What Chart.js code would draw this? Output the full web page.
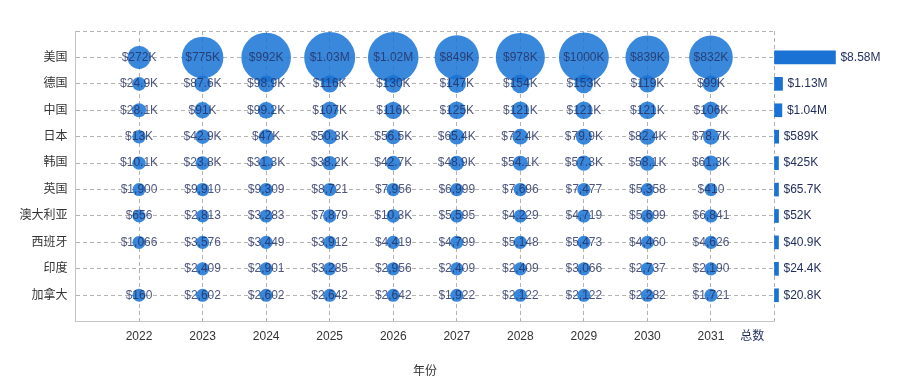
<!DOCTYPE html>
<html>
<head>
<meta charset="utf-8">
<script src="https://cdn.jsdelivr.net/npm/chart.js@4/dist/chart.umd.min.js"></script>
<style>
body { margin: 0; background: #fff; }
#wrap { width: 903px; height: 388px; }
</style>
</head>
<body>
<div id="wrap"><canvas id="chart"></canvas></div>
<script>
const years = [2022, 2023, 2024, 2025, 2026, 2027, 2028, 2029, 2030, 2031];
const countries = ["美国", "德国", "中国", "日本", "韩国", "英国", "澳大利亚", "西班牙", "印度", "加拿大"];

// yearly values per country (USD), null = no data
const usa = [272000, 775000, 992000, 1030000, 1020000, 849000, 978000, 999800, 839000, 832000];
const germany = [24900, 87600, 98900, 116000, 130000, 147000, 154000, 153000, 119000, 99000];
const china = [28100, 91000, 99200, 107000, 116000, 125000, 121000, 121000, 121000, 106000];
const japan = [13000, 42900, 47000, 50300, 56500, 65400, 72400, 79900, 82400, 78700];
const korea = [10100, 23800, 31300, 38200, 42700, 48900, 54100, 57300, 58100, 61300];
const uk = [1900, 9910, 9309, 8721, 7956, 6999, 7696, 7477, 5358, 410];
const australia = [656, 2813, 3283, 7879, 10300, 5595, 4229, 4719, 5699, 6841];
const spain = [1066, 3576, 3449, 3912, 4419, 4799, 5148, 5473, 4460, 4626];
const india = [null, 2409, 2901, 3285, 2956, 2409, 2409, 3066, 2737, 2190];
const canada = [160, 2602, 2602, 2642, 2642, 1922, 2122, 2122, 2282, 1721];
const totals = [8580000, 1130000, 1040000, 589000, 425000, 65700, 52000, 40900, 24400, 20800];

const rows = [usa, germany, china, japan, korea, uk, australia, spain, india, canada];
const totalLabel = "总数";

const fontFamily = '"Liberation Sans", "Noto Sans CJK SC", sans-serif';
const colors = {
    bubble: "rgba(24, 115, 213, 0.85)",
    bar: "#1a73d4",
    text: "#333333",
    navy: "#1f2c5c",
    bubbleText: "rgba(35, 45, 95, 0.8)",
    grid: "#b3b3b3",
    border: "#c4c4c4",
};

Chart.defaults.font.family = fontFamily;
Chart.defaults.font.size = 12;
Chart.defaults.color = colors.text;

function money(v) {
    if (v < 10000) return "$" + Math.round(v).toLocaleString("en-US");
    if (v < 1000000) return "$" + Number((v / 1000).toPrecision(3)) + "K";
    return "$" + Number((v / 1000000).toPrecision(3)) + "M";
}

const maxValue = Math.max(...rows.flat().filter(v => v !== null));

const bubbles = [];
rows.forEach((row, ri) => {
    row.forEach((v, yi) => {
	if (v === null) return;
	bubbles.push({ x: years[yi], y: ri, r: 6.5 + 19 * v / maxValue, v: v });
    });
});

const bars = totals.map((v, i) => ({ x: v, y: i }));

const valueLabels = {
    id: "valueLabels",
    afterDatasetsDraw(chart) {
	const ctx = chart.ctx;
	ctx.save();
	ctx.font = "12px " + fontFamily;
	ctx.textBaseline = "middle";
	chart.data.datasets.forEach((ds, di) => {
	    const meta = chart.getDatasetMeta(di);
	    meta.data.forEach((el, i) => {
		const raw = ds.data[i];
		if (ds.type === "bar") {
		    ctx.textAlign = "left";
		    ctx.fillStyle = colors.navy;
		    ctx.fillText(money(raw.x), el.x + 5, el.y);
		} else {
		    ctx.textAlign = "center";
		    ctx.fillStyle = colors.bubbleText;
		    ctx.fillText(money(raw.v), el.x, el.y);
		}
	    });
	});
	ctx.restore();
    }
};

const totalPos = years[years.length - 1] + 0.65;
const xEnd = years[years.length - 1] + 1;

new Chart(document.getElementById("chart"), {
    type: "bubble",
    data: {
	datasets: [
	    {
		type: "bubble",
		data: bubbles,
		xAxisID: "x",
		yAxisID: "y",
		backgroundColor: colors.bubble,
		borderWidth: 0,
		clip: false,
	    },
	    {
		type: "bar",
		indexAxis: "y",
		data: bars,
		xAxisID: "xTot",
		yAxisID: "y",
		backgroundColor: colors.bar,
		grouped: false,
		barThickness: 13,
		maxBarThickness: 13,
		minBarLength: 4,
		clip: false,
	    },
	],
    },
    options: {
	responsive: true,
	maintainAspectRatio: false,
	animation: false,
	events: [],
	layout: { padding: { top: 31, right: 128.5, left: 15.5, bottom: 0 } },
	plugins: { legend: { display: false }, tooltip: { enabled: false } },
	scales: {
	    x: {
		type: "linear",
		offset: false,
		min: years[0] - 1,
		max: xEnd,
		afterBuildTicks: (scale) => {
		    scale.ticks = years.concat([totalPos, xEnd]).map(v => ({ value: v }));
		},
		afterFit: (scale) => { scale.height = 66.3; },
		ticks: {
		    padding: 8,
		    autoSkip: false,
		    maxRotation: 0,
		    callback: (v) => v === xEnd ? "" : (v > years[years.length - 1] ? totalLabel : String(v)),
		    color: (ctx) => ctx.tick && ctx.tick.value === totalPos ? colors.navy : colors.text,
		},
		grid: {
		    offset: false,
		    drawTicks: false,
		    color: (ctx) => ctx.tick && ctx.tick.value === totalPos ? "rgba(0,0,0,0)" : colors.grid,
		},
		border: { color: colors.border, dash: [4, 3] },
		title: {
		    display: true,
		    text: "年份",
		    color: colors.text,
		    font: { size: 12 },
		    padding: { top: 0, bottom: 9 },
		},
	    },
	    xTot: {
		type: "linear",
		display: false,
		offset: false,
		min: -98400000,
		max: 0,
	    },
	    y: {
		type: "linear",
		reverse: true,
		offset: false,
		min: -1,
		max: countries.length,
		afterBuildTicks: (scale) => {
		    scale.ticks = [-1].concat(countries.map((c, i) => i)).map(v => ({ value: v }));
		},
		afterFit: (scale) => { scale.width = 60; },
		ticks: {
		    padding: 8,
		    autoSkip: false,
		    callback: (v) => v < 0 ? "" : countries[v],
		},
		grid: { offset: false, drawTicks: false, color: colors.grid },
		border: { color: colors.border, dash: [4, 3] },
	    },
	},
    },
    plugins: [valueLabels],
});
</script>
</body>
</html>
